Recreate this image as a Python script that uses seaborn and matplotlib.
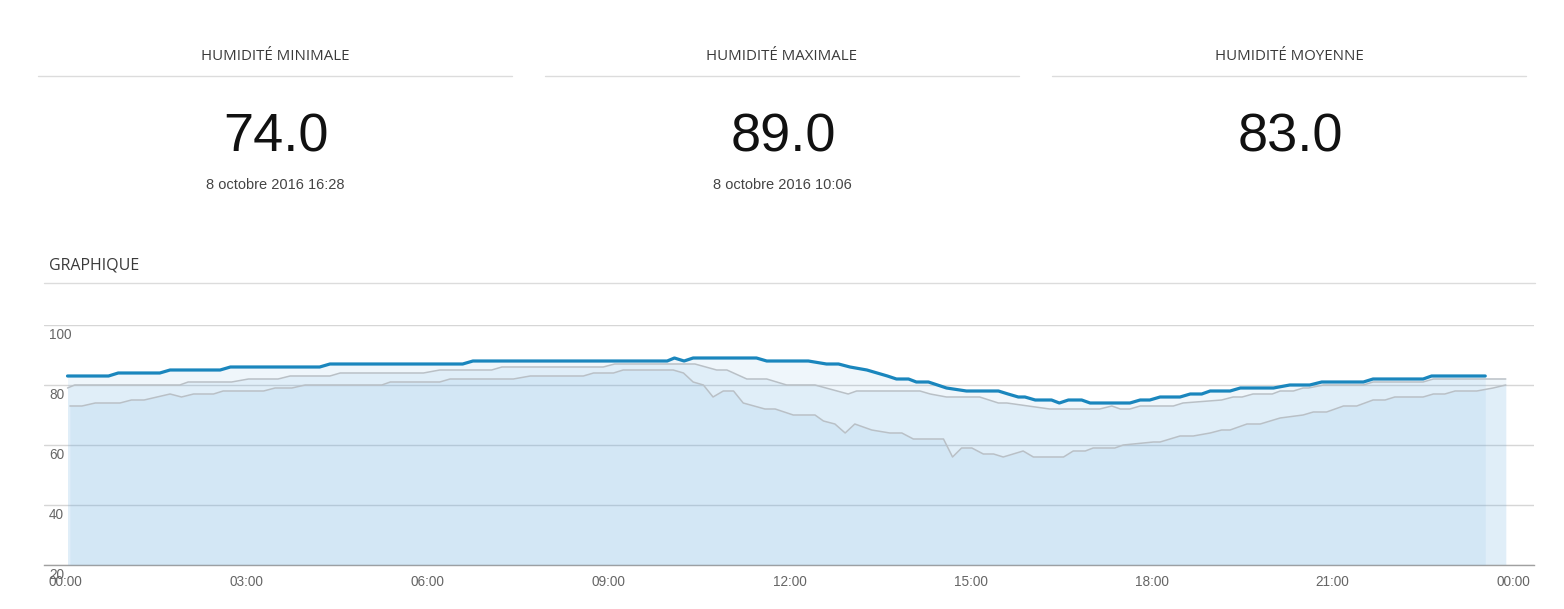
import numpy as np
import pandas as pd
import matplotlib
matplotlib.use("Agg")
import matplotlib.pyplot as plt
from matplotlib.lines import Line2D
import seaborn as sns

# ---------------- data (hours of day, humidity %) ----------------
blue_t = [0.03, 0.71, 0.87, 1.56, 1.73, 2.56, 2.73, 4.21, 4.38, 6.58, 6.75, 9.97,
          10.09, 10.25, 10.40, 11.45, 11.62, 12.31, 12.61, 12.81, 13.00, 13.28,
          13.45, 13.62, 13.77, 13.97, 14.10, 14.30, 14.45, 14.60, 14.93, 15.46,
          15.62, 15.79, 15.90, 16.07, 16.34, 16.47, 16.62, 16.84, 16.98, 17.64,
          17.81, 17.97, 18.14, 18.47, 18.64, 18.83, 18.97, 19.30, 19.47, 20.02,
          20.29, 20.62, 20.82, 21.51, 21.67, 22.50, 22.64, 23.53]
blue_v = [83, 83, 84, 84, 85, 85, 86, 86, 87, 87, 88, 88,
          89, 88, 89, 89, 88, 88, 87, 87, 86, 85,
          84, 83, 82, 82, 81, 81, 80, 79, 78, 78,
          77, 76, 76, 75, 75, 74, 75, 75, 74, 74,
          75, 75, 76, 76, 77, 77, 78, 78, 79, 79,
          80, 80, 81, 81, 82, 82, 83, 83]

mid_t = [0.03, 0.15, 1.89, 2.03, 2.75, 3.03, 3.52, 3.72, 4.38, 4.55, 5.93, 6.20,
         7.06, 7.23, 8.91, 9.10, 10.43, 10.79, 10.96, 11.29, 11.62, 11.95, 12.42,
         12.97, 13.11, 14.16, 14.33, 14.60, 15.15, 15.46, 15.60, 16.31, 17.14,
         17.34, 17.48, 17.64, 17.81, 18.36, 18.52, 19.16, 19.35, 19.50, 19.68,
         20.00, 20.13, 20.35, 20.51, 20.60, 20.85, 21.51, 21.67, 22.50, 22.67, 23.87]
mid_v = [79, 80, 80, 81, 81, 82, 82, 83, 83, 84, 84, 85,
         85, 86, 86, 87, 87, 85, 85, 82, 82, 80, 80,
         77, 78, 78, 77, 76, 76, 74, 74, 72, 72,
         73, 72, 72, 73, 73, 74, 75, 76, 76, 77,
         77, 78, 78, 79, 79, 80, 80, 81, 81, 82, 82]

low_t = [0.07, 0.27, 0.49, 0.90, 1.09, 1.30, 1.73, 1.92, 2.12, 2.45, 2.61, 3.28,
         3.47, 3.75, 3.97, 5.24, 5.38, 6.20, 6.37, 7.42, 7.70, 8.58, 8.75, 9.08,
         9.24, 10.07, 10.24, 10.40, 10.57, 10.73, 10.90, 11.07, 11.23, 11.59,
         11.76, 12.06, 12.42, 12.56, 12.75, 12.92, 13.08, 13.36, 13.66, 13.86,
         14.05, 14.55, 14.70, 14.85, 15.02, 15.21, 15.38, 15.54, 15.87, 16.04,
         16.54, 16.70, 16.90, 17.03, 17.39, 17.53, 18.03, 18.14, 18.47, 18.69,
         18.97, 19.16, 19.30, 19.58, 19.80, 20.13, 20.51, 20.68, 20.90, 21.18,
         21.40, 21.67, 21.87, 22.03, 22.50, 22.67, 22.86, 23.03, 23.39, 23.66, 23.87]
low_v = [73, 73, 74, 74, 75, 75, 77, 76, 77, 77, 78, 78,
         79, 79, 80, 80, 81, 81, 82, 82, 83, 83, 84, 84,
         85, 85, 84, 81, 80, 76, 78, 78, 74, 72,
         72, 70, 70, 68, 67, 64, 67, 65, 64, 64,
         62, 62, 56, 59, 59, 57, 57, 56, 58, 56,
         56, 58, 58, 59, 59, 60, 61, 61, 63, 63,
         64, 65, 65, 67, 67, 69, 70, 71, 71, 73,
         73, 75, 75, 76, 76, 77, 77, 78, 78, 79, 80]

stat_titles = ["HUMIDITÉ MINIMALE", "HUMIDITÉ MAXIMALE", "HUMIDITÉ MOYENNE"]
stat_values = ["74.0", "89.0", "83.0"]
stat_dates = ["8 octobre 2016 16:28", "8 octobre 2016 10:06", ""]
section_title = "GRAPHIQUE"

x_ticks = [0, 3, 6, 9, 12, 15, 18, 21, 24]
x_labels = ["00:00", "03:00", "06:00", "09:00", "12:00", "15:00", "18:00", "21:00", "00:00"]
y_ticks = [20, 40, 60, 80, 100]

# ---------------- style ----------------
sns.set_theme(style="white")
plt.rcParams['font.family'] = ['Liberation Sans', 'DejaVu Sans']

W, H = 1564, 609
fig = plt.figure(figsize=(W / 100, H / 100), dpi=100)
fig.patch.set_facecolor("white")

def fx(px):
    return px / W

def fy(py):
    return 1 - py / H

# ---------------- header stats ----------------
centers = [275, 782, 1289]
spans = [(38, 512), (545, 1019), (1052, 1526)]
for c, (a, b), t, v, d in zip(centers, spans, stat_titles, stat_values, stat_dates):
    fig.text(fx(c), fy(57), t, ha="center", va="center", fontsize=10.8,
             family=["Open Sans", "DejaVu Sans"], color="#3a3a3a")
    fig.add_artist(Line2D([fx(a), fx(b)], [fy(76), fy(76)], color="#dcdcdc", lw=1))
    fig.text(fx(c + 1), fy(137), v, ha="center", va="center", fontsize=39, color="#111111")
    if d:
        fig.text(fx(c), fy(185), d, ha="center", va="center", fontsize=10.5, color="#444444")

fig.text(fx(49), fy(265), section_title, ha="left", va="center", fontsize=11.5,
         family=["Open Sans", "DejaVu Sans"], color="#3a3a3a")
fig.add_artist(Line2D([fx(44), fx(1535)], [fy(283), fy(283)], color="#dcdcdc", lw=1))

# ---------------- chart ----------------
ax = fig.add_axes([fx(44), fy(565), (1534 - 44) / W, (565 - 325) / H])
ax.set_facecolor("white")

fill_color = "#64aae1"
fill_alpha = 0.10
series = [
    ("low", low_t, low_v, "#b9c0c6", 1.1),
    ("mid", mid_t, mid_v, "#b9c0c6", 1.1),
    ("blue", blue_t, blue_v, "#1a86bd", 2.3),
]
for i, (name, t, v, col, lw) in enumerate(series):
    ax.fill_between(t, 20, v, color=fill_color, alpha=fill_alpha, lw=0, zorder=1 + i)

for i, (name, t, v, col, lw) in enumerate(series):
    df = pd.DataFrame({"heure": t, "humidite": v})
    sns.lineplot(data=df, x="heure", y="humidite", ax=ax, color=col, lw=lw,
                 estimator=None, sort=True, zorder=5 + i)

ax.set_xlim((44 - 65.7) / 60.33, (1534 - 65.7) / 60.33)
ax.set_ylim(20, 100)
ax.set_xlabel("")
ax.set_ylabel("")

ax.set_yticks(y_ticks)
ax.set_yticklabels([])
ax.tick_params(axis="y", length=0)
ax.yaxis.grid(True, color="#d6d6d6", lw=1, zorder=0)
ax.xaxis.grid(False)
for v in y_ticks:
    ax.annotate(str(v), xy=(5 / 1490, v), xycoords=ax.get_yaxis_transform(),
                xytext=(0, -7.0), textcoords="offset points", ha="left", va="center",
                fontsize=9.8, color="#666666", annotation_clip=False)

ax.set_xticks(x_ticks)
ax.set_xticklabels(x_labels)
ax.tick_params(axis="x", direction="in", length=6.5, width=1, color="#9a9a9a",
               labelsize=9.8, labelcolor="#666666", pad=7)

for s in ["top", "left", "right"]:
    ax.spines[s].set_visible(False)
ax.spines["bottom"].set_color("#a0a0a0")
ax.spines["bottom"].set_linewidth(1)

fig.savefig("out.png", dpi=100, facecolor="white")
